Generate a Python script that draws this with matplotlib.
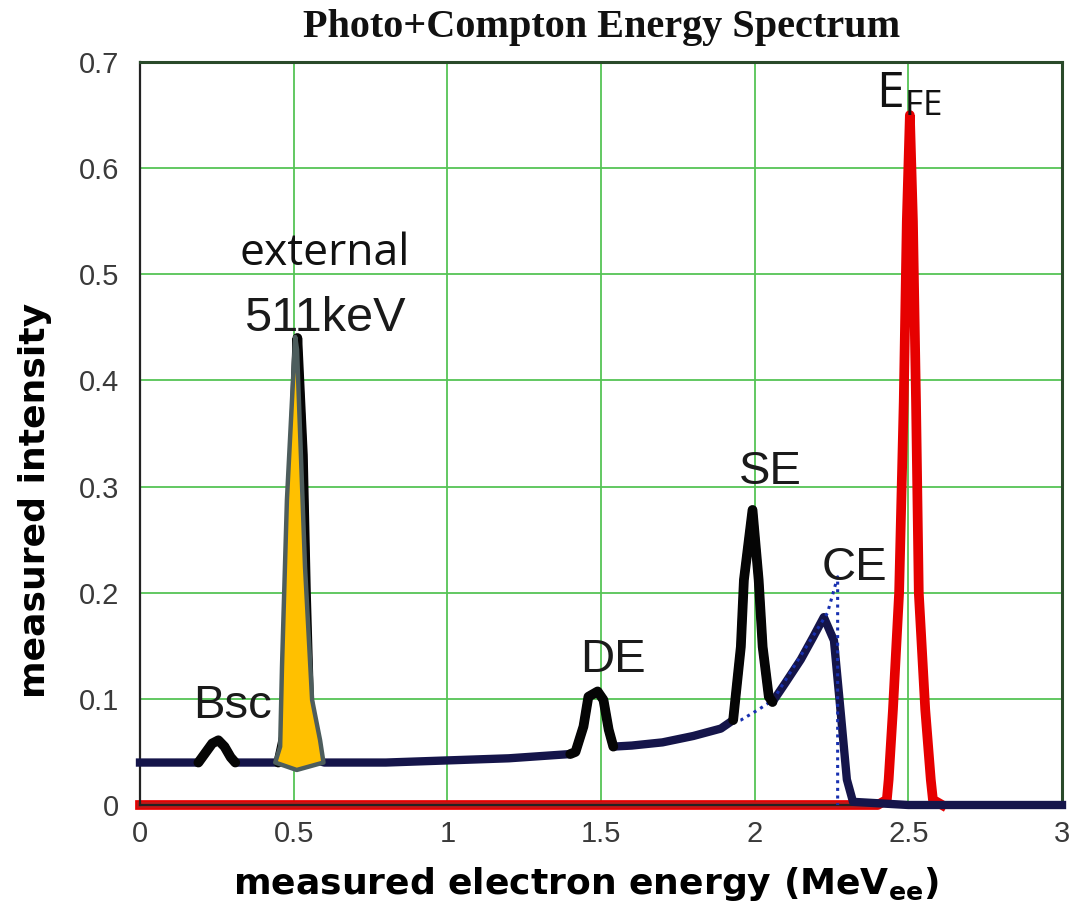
import numpy as np
import matplotlib
matplotlib.use("Agg")
import matplotlib.pyplot as plt

plt.rcParams['mathtext.fontset'] = 'custom'
plt.rcParams['mathtext.rm'] = 'Open Sans'
plt.rcParams['mathtext.bf'] = 'DejaVu Sans:bold'

# ---- data ----
# measured spectrum (Compton continuum + escape / annihilation peaks), MeV_ee vs intensity
spec_x = [0.00, 0.19, 0.215, 0.235, 0.255, 0.275, 0.295, 0.31,
          0.45, 0.48, 0.495, 0.512, 0.53, 0.54, 0.55, 0.56, 0.575, 0.60,
          0.80, 1.00, 1.20, 1.40, 1.417, 1.443, 1.459, 1.489, 1.508, 1.525, 1.54,
          1.60, 1.70, 1.80, 1.89, 1.93, 1.955, 1.965, 1.993, 2.013, 2.026, 2.046, 2.058,
          2.10, 2.15, 2.19, 2.225, 2.258, 2.28, 2.30, 2.32, 2.50, 3.00]
spec_y = [0.040, 0.040, 0.050, 0.058, 0.061, 0.055, 0.045, 0.040,
          0.040, 0.080, 0.300, 0.440, 0.330, 0.200, 0.100, 0.060, 0.042, 0.040,
          0.040, 0.042, 0.044, 0.048, 0.050, 0.074, 0.102, 0.107, 0.099, 0.071, 0.055,
          0.056, 0.059, 0.065, 0.072, 0.080, 0.149, 0.212, 0.278, 0.212, 0.149, 0.102, 0.097,
          0.115, 0.137, 0.158, 0.177, 0.155, 0.087, 0.024, 0.003, 0.000, 0.000]

# ideal Compton continuum (dotted) below the SE peak up to the Compton edge
ideal_x = [1.93, 1.955, 2.013, 2.06, 2.237, 2.27, 2.27]
ideal_y = [0.078, 0.080, 0.090, 0.099, 0.181, 0.215, 0.000]

# full-energy (photo) peak
photo_x = [0.00, 2.30, 2.40, 2.43, 2.436, 2.45, 2.47, 2.485, 2.495, 2.505,
           2.515, 2.525, 2.534, 2.555, 2.573, 2.58, 2.61]
photo_y = [0.000, 0.000, 0.000, 0.005, 0.024, 0.090, 0.200, 0.380, 0.550, 0.650,
           0.550, 0.380, 0.200, 0.090, 0.024, 0.005, 0.000]

# hand-drawn highlight over the external 511 keV peak (outline points)
blob_x = [0.505, 0.511, 0.521, 0.537, 0.560, 0.586, 0.597, 0.51, 0.440, 0.456, 0.462, 0.478]
blob_y = [0.441, 0.429, 0.350, 0.224, 0.099, 0.061, 0.040, 0.033, 0.040, 0.055, 0.130, 0.287]

peak_windows = [(0.18, 0.32), (0.44, 0.58), (1.40, 1.56), (1.92, 2.06)]

x_ticks = [0, 0.5, 1, 1.5, 2, 2.5, 3]
x_tick_labels = ['0', '0.5', '1', '1.5', '2', '2.5', '3']
y_ticks = [0, 0.1, 0.2, 0.3, 0.4, 0.5, 0.6, 0.7]
y_tick_labels = ['0', '0.1', '0.2', '0.3', '0.4', '0.5', '0.6', '0.7']

labels = ['Bsc', 'DE', 'SE', 'CE']
label_x = [0.30, 1.54, 2.05, 2.325]
label_y = [0.082, 0.125, 0.302, 0.212]

# ---- figure ----
W, H = 1069, 911
fig = plt.figure(figsize=(W / 100, H / 100), dpi=100)
ax = fig.add_axes([140 / W, 1 - 805 / H, (1062 - 140) / W, (805 - 62) / H])
ax.set_xlim(0, 3)
ax.set_ylim(0, 0.7)

ax.set_xticks(x_ticks)
ax.set_xticklabels(x_tick_labels)
ax.set_yticks(y_ticks)
ax.set_yticklabels(y_tick_labels)
ax.tick_params(length=0, labelsize=21, labelcolor='#3a3a3a')
for lab in ax.get_xticklabels() + ax.get_yticklabels():
    lab.set_family('Liberation Sans')
ax.tick_params(axis='x', pad=11)
ax.tick_params(axis='y', pad=15)

ax.grid(True, color='#55c455', linewidth=1.3, zorder=0)
ax.set_axisbelow(True)
for side in ['left', 'bottom']:
    ax.spines[side].set_color('#222222')
    ax.spines[side].set_linewidth(1.6)
for side in ['top', 'right']:
    ax.spines[side].set_color('#2a4a2a')
    ax.spines[side].set_linewidth(2.2)

sx = np.array(spec_x)
sy = np.array(spec_y)

ax.plot(photo_x, photo_y, color='#e60000', linewidth=7, solid_joinstyle='round',
        zorder=2, clip_on=False)
ax.plot(photo_x[:3], photo_y[:3], color='#c01818', linewidth=4.5, zorder=2.1, clip_on=False)
ax.plot(sx, sy, color='#15154a', linewidth=6, solid_joinstyle='round',
        zorder=3, clip_on=False)
for lo, hi in peak_windows:
    m = (sx >= lo) & (sx <= hi)
    ax.plot(sx[m], sy[m], color='#050505', linewidth=7, solid_joinstyle='round',
            solid_capstyle='round', zorder=4)
ax.plot(ideal_x, ideal_y, color='#1830b0', linewidth=2.2, linestyle=(0, (1, 1.5)),
        zorder=3.5)

ax.fill(blob_x, blob_y, facecolor='#ffc000', edgecolor='#4d5d5d', linewidth=3.2,
        joinstyle='round', zorder=5)

for t, lx, ly in zip(labels, label_x, label_y):
    ax.text(lx, ly, t, fontsize=34, family='Liberation Sans', color='#1a1a1a',
            ha='center', va='baseline', zorder=6)
ax.text(0.60, 0.509, 'external', fontsize=32, family='Open Sans', color='#111111',
        ha='center', va='baseline', zorder=6)
ax.text(0.60, 0.447, '511keV', fontsize=35, family='Liberation Sans', color='#1a1a1a',
        ha='center', va='baseline', zorder=6)
ax.text(2.50, 0.657, r'E$_{\mathrm{FE}}$', fontsize=36, family='Open Sans', color='#111111',
        ha='center', va='baseline', zorder=6)

fig.text(602 / W, 1 - 27 / H, 'Photo+Compton Energy Spectrum', family='Liberation Serif',
         fontweight='bold', fontsize=29, ha='center', va='center', color='#111111')
fig.text(586 / W, 1 - 884 / H, r'measured electron energy (MeV$_{\mathbf{ee}}$)',
         family='DejaVu Sans', fontweight='bold', fontsize=26, ha='center', va='center',
         color='#000000')
fig.text(35 / W, 1 - 500 / H, 'measured intensity', family='DejaVu Sans',
         fontweight='bold', fontsize=26, rotation=90, ha='center', va='center',
         color='#000000')

fig.savefig('out.png', dpi=100)
